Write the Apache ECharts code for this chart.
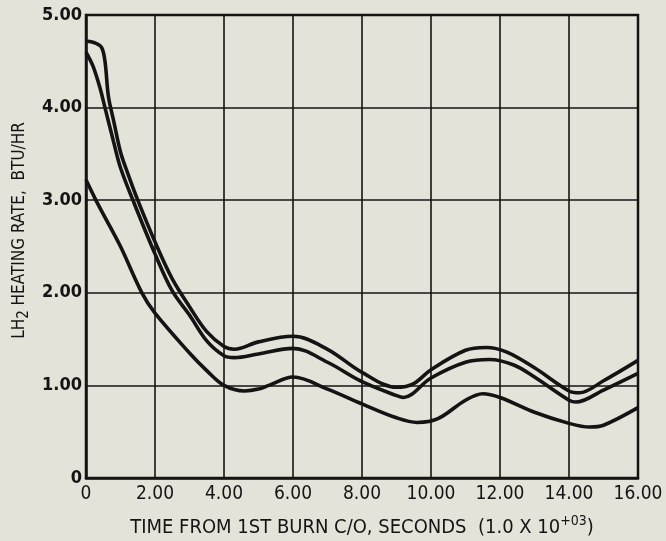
<!DOCTYPE html>
<html>
<head>
<meta charset="utf-8">
<script src="https://cdn.jsdelivr.net/npm/echarts@6/dist/echarts.min.js"></script>
<style>
html,body{margin:0;padding:0;background:#e3e3d9;}
#chart{width:666px;height:541px;}
</style>
</head>
<body>
<div id="chart"></div>
<script>
// Data (x in 1.0e3 seconds, y in BTU/HR)
const xTop = [0, 0.25, 0.45, 0.55, 0.65, 0.8, 1.0, 1.2, 1.5, 2.0, 2.5, 3.0, 3.5, 4.0, 4.3, 5.0, 6.0, 7.0, 8.0, 9.0, 9.5, 10.0, 11.0, 11.6, 12.2, 13.0, 14.0, 14.3, 15.0, 16.0];
const yTop = [4.72, 4.70, 4.65, 4.50, 4.12, 3.86, 3.52, 3.30, 3.00, 2.55, 2.15, 1.85, 1.58, 1.42, 1.39, 1.47, 1.53, 1.39, 1.14, 0.98, 1.02, 1.17, 1.38, 1.41, 1.36, 1.19, 0.94, 0.92, 1.05, 1.27];

const xMid = [0, 0.2, 0.4, 0.55, 0.8, 1.0, 1.36, 2.0, 2.5, 3.0, 3.5, 4.0, 4.3, 5.0, 6.0, 7.0, 8.0, 9.0, 9.2, 10.0, 11.0, 11.7, 12.4, 13.0, 14.0, 14.2, 15.0, 16.0];
const yMid = [4.60, 4.45, 4.22, 4.00, 3.63, 3.35, 3.00, 2.42, 2.02, 1.76, 1.48, 1.32, 1.30, 1.34, 1.40, 1.25, 1.04, 0.89, 0.87, 1.08, 1.25, 1.28, 1.22, 1.09, 0.84, 0.82, 0.95, 1.13];

const xBot = [0, 0.26, 0.5, 1.0, 1.62, 2.0, 3.0, 3.5, 4.0, 4.6, 5.0, 5.3, 6.0, 7.0, 8.0, 9.0, 9.6, 10.2, 11.0, 11.5, 12.0, 13.0, 14.0, 14.6, 15.0, 16.0];
const yBot = [3.22, 3.02, 2.85, 2.50, 2.00, 1.78, 1.35, 1.16, 1.00, 0.94, 0.96, 1.00, 1.09, 0.96, 0.80, 0.65, 0.60, 0.64, 0.84, 0.91, 0.87, 0.71, 0.59, 0.55, 0.57, 0.76];

const xTicks = ['0', '2.00', '4.00', '6.00', '8.00', '10.00', '12.00', '14.00', '16.00'];
const yTicks = ['0', '1.00', '2.00', '3.00', '4.00', '5.00'];

const FONT = "'DejaVu Sans Condensed', 'Liberation Sans Narrow', sans-serif";
const pair = (xs, ys) => xs.map((x, i) => [x, ys[i]]);

const lineStyle = { color: '#141414', width: 3.6 };
function mk(xs, ys) {
  return { type: 'line', data: pair(xs, ys), smooth: 0.35, symbol: 'none', lineStyle: lineStyle, z: 5 };
}

const chart = echarts.init(document.getElementById('chart'), null, { renderer: 'canvas' });
chart.setOption({
  backgroundColor: '#e3e3d9',
  animation: false,
  grid: { left: 86, right: 28, top: 15, bottom: 63, outerBoundsMode: 'none', containLabel: false,
          show: true, borderColor: '#141414', borderWidth: 2.5, backgroundColor: 'transparent' },
  xAxis: {
    type: 'value', min: 0, max: 16, interval: 2,
    axisLine: { show: true, lineStyle: { color: '#141414', width: 2.5 } },
    axisTick: { show: false },
    splitLine: { show: true, lineStyle: { color: '#141414', width: 1.6 } },
    axisLabel: {
      color: '#141414', fontFamily: FONT, fontSize: 19, margin: 7,
      formatter: v => xTicks[Math.round(v / 2)]
    },
    name: '{t|TIME FROM 1ST BURN C/O, SECONDS  (1.0 X 10}{s|+03}{t|)}',
    nameLocation: 'middle', nameGap: 36,
    nameTextStyle: {
      rich: {
        t: { fontFamily: FONT, fontSize: 20, color: '#141414', verticalAlign: 'bottom', lineHeight: 24 },
        s: { fontFamily: FONT, fontSize: 14, color: '#141414', verticalAlign: 'top', padding: [0, 0, 10, 0], lineHeight: 24 }
      }
    }
  },
  yAxis: {
    type: 'value', min: 0, max: 5, interval: 1,
    axisLine: { show: true, lineStyle: { color: '#141414', width: 2.5 } },
    axisTick: { show: false },
    splitLine: { show: true, lineStyle: { color: '#141414', width: 1.6 } },
    axisLabel: {
      color: '#141414', fontFamily: FONT, fontSize: 18, fontWeight: 'bold', margin: 4,
      formatter: v => yTicks[Math.round(v)]
    },
    name: '{t|LH}{s|2}{t| HEATING RATE,  BTU/HR}',
    nameLocation: 'middle', nameGap: 54, nameRotate: 90,
    nameTextStyle: {
      padding: [0, 0, 0, 32],
      rich: {
        t: { fontFamily: FONT, fontSize: 17, color: '#141414', lineHeight: 22 },
        s: { fontFamily: FONT, fontSize: 15, color: '#141414', padding: [8, 0, 0, 0], lineHeight: 22 }
      }
    }
  },
  series: [mk(xTop, yTop), mk(xMid, yMid), mk(xBot, yBot)]
});
</script>
</body>
</html>
